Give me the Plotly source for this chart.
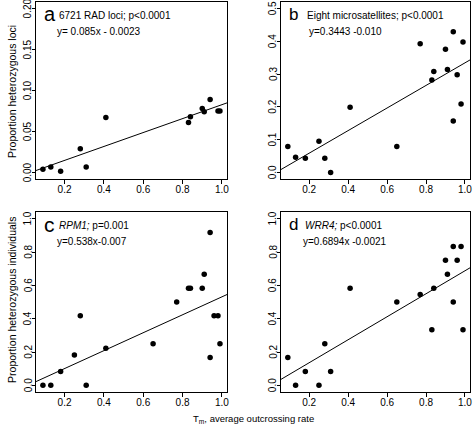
import plotly.graph_objects as go

W, H = 473, 427

# Outcrossing rates (x) shared by panels b, c, d
tm_all = [0.09, 0.13, 0.18, 0.25, 0.28, 0.31, 0.41, 0.65, 0.77, 0.83, 0.84,
          0.90, 0.91, 0.94, 0.94, 0.96, 0.98, 0.99]

# Panel a: RAD loci (subset of populations)
tm_a = [0.09, 0.13, 0.18, 0.28, 0.31, 0.41, 0.83, 0.84, 0.90, 0.91, 0.94, 0.98, 0.99]
het_a = [0.004, 0.0065, 0.0016, 0.029, 0.0065, 0.067, 0.061, 0.068, 0.078, 0.074,
         0.089, 0.075, 0.075]

# Panel b: eight microsatellites
het_b = [0.079, 0.046, 0.043, 0.095, 0.043, 0.0, 0.199, 0.079, 0.393, 0.282, 0.308,
         0.376, 0.314, 0.429, 0.157, 0.298, 0.209, 0.398]

# Panel c: RPM1
het_c = [0.0, 0.0, 0.083, 0.182, 0.417, 0.0, 0.222, 0.25, 0.5, 0.583, 0.583,
         0.583, 0.667, 0.917, 0.167, 0.417, 0.417, 0.25]

# Panel d: WRR4
het_d = [0.167, 0.0, 0.083, 0.0, 0.25, 0.083, 0.583, 0.5, 0.545, 0.333, 0.583,
         0.75, 0.667, 0.833, 0.5, 0.75, 0.833, 0.333]

# Regression lines (slope, intercept)
fit_slopes = [0.085, 0.3443, 0.538, 0.6894]
fit_intercepts = [-0.0023, -0.010, -0.007, -0.0021]

panel_letters = ["a", "b", "c", "d"]
panel_titles = ["6721 RAD loci; p<0.0001", "Eight microsatellites; p<0.0001",
                "<i>RPM1;</i> p=0.001", "<i>WRR4;</i> p<0.0001"]
panel_eqs = ["y= 0.085x - 0.0023", "y=0.3443 -0.010", "y=0.538x-0.007", "y=0.6894x -0.0021"]

x_ticks = [0.2, 0.4, 0.6, 0.8, 1.0]
x_ticklabels = ["0.2", "0.4", "0.6", "0.8", "1.0"]
y_ticks = [
    [0.0, 0.05, 0.10, 0.15, 0.20],
    [0.0, 0.1, 0.2, 0.3, 0.4, 0.5],
    [0.0, 0.2, 0.4, 0.6, 0.8, 1.0],
    [0.0, 0.2, 0.4, 0.6, 0.8, 1.0],
]
y_ticklabels = [
    ["0.00", "0.05", "0.10", "0.15", "0.20"],
    ["0.0", "0.1", "0.2", "0.3", "0.4", "0.5"],
    ["0.0", "0.2", "0.4", "0.6", "0.8", "1.0"],
    ["0.0", "0.2", "0.4", "0.6", "0.8", "1.0"],
]
y_ranges = [[-0.008, 0.208], [-0.02, 0.52], [-0.04, 1.04], [-0.04, 1.04]]
x_range = [0.054, 1.026]

ylabel_top = "Proportion heterozygous loci"
ylabel_bottom = "Proportion heterozygous individuals"
xlabel = "T<sub>m</sub>, average outcrossing rate"

FONT = "Liberation Sans, Arial, sans-serif"

# panel boxes in pixels: (left, right, top, bottom)
boxes = [(36, 228, 2, 179), (282, 472, 2, 179), (36, 228, 212, 392), (282, 472, 212, 392)]
letter_sizes = [20, 17, 21, 17]
text_dx = [21, 24, 21, 22]
eq_dx = [19, 26, 19, 20]


def px(x):
    return x / W


def py(y):
    return 1 - y / H


xs_list = [tm_a, tm_all, tm_all, tm_all]
ys_list = [het_a, het_b, het_c, het_d]

fig = go.Figure()
layout = dict(
    width=W, height=H, margin=dict(l=0, r=0, t=0, b=0),
    paper_bgcolor="white", plot_bgcolor="white", showlegend=False,
    font=dict(family=FONT, color="black", size=10),
)

annotations = []
for i in range(4):
    suf = "" if i == 0 else str(i + 1)
    xa, ya = "x" + suf, "y" + suf
    l, r, t, b = boxes[i]
    fig.add_trace(go.Scatter(
        x=xs_list[i], y=ys_list[i], mode="markers", xaxis=xa, yaxis=ya,
        marker=dict(color="black", size=5.5, line=dict(width=0)),
    ))
    lx = x_range
    ly = [fit_slopes[i] * v + fit_intercepts[i] for v in lx]
    fig.add_trace(go.Scatter(
        x=lx, y=ly, mode="lines", xaxis=xa, yaxis=ya,
        line=dict(color="black", width=1),
    ))
    layout["xaxis" + suf] = dict(
        domain=[px(l), px(r)], range=x_range, anchor=ya,
        tickvals=x_ticks, ticktext=x_ticklabels, ticks="outside", ticklen=4,
        tickcolor="black", showline=True, mirror=True, linecolor="black",
        linewidth=1, showgrid=False, zeroline=False, tickfont=dict(size=10),
        ticklabelstandoff=-3, ticklabeloverflow="allow",
    )
    layout["yaxis" + suf] = dict(
        domain=[py(b), py(t)], range=y_ranges[i], anchor=xa,
        tickvals=y_ticks[i], ticks="outside", ticklen=3, showticklabels=False,
        tickcolor="black", showline=True, mirror=True, linecolor="black",
        linewidth=1, showgrid=False, zeroline=False,
    )
    # rotated y tick labels (R style), placed at the tick values
    for v, lab in zip(y_ticks[i], y_ticklabels[i]):
        annotations.append(dict(
            text=lab, x=0, xref=xa + " domain", y=v, yref=ya,
            xanchor="center", yanchor="middle", textangle=-90, xshift=-8,
            showarrow=False, font=dict(size=10),
        ))
    annotations.append(dict(
        text=panel_letters[i], x=px(l + 6), y=py(t + 12), xref="paper", yref="paper",
        xanchor="left", yanchor="middle", showarrow=False,
        font=dict(size=letter_sizes[i]),
    ))
    annotations.append(dict(
        text=panel_titles[i], x=px(l + text_dx[i]), y=py(t + 13), xref="paper",
        yref="paper", xanchor="left", yanchor="middle", showarrow=False,
        font=dict(size=10),
    ))
    annotations.append(dict(
        text=panel_eqs[i], x=px(l + eq_dx[i]), y=py(t + 30), xref="paper",
        yref="paper", xanchor="left", yanchor="middle", showarrow=False,
        font=dict(size=10),
    ))

annotations.append(dict(
    text=ylabel_top, x=px(12), y=py(91), xref="paper", yref="paper",
    xanchor="center", yanchor="middle",
    textangle=-90, showarrow=False, font=dict(size=10.5),
))
annotations.append(dict(
    text=ylabel_bottom, x=px(12), y=py(300), xref="paper", yref="paper",
    xanchor="center", yanchor="middle",
    textangle=-90, showarrow=False, font=dict(size=10.5),
))
annotations.append(dict(
    text=xlabel, x=px(255), y=0, xref="paper", yref="paper",
    xanchor="center", yanchor="bottom", showarrow=False, font=dict(size=9.5),
))
layout["annotations"] = annotations
fig.update_layout(**layout)
fig.write_html(
    "out.html",
    config={"displayModeBar": False},
    post_script="document.body.style.margin='0';document.body.style.overflow='hidden';",
)
